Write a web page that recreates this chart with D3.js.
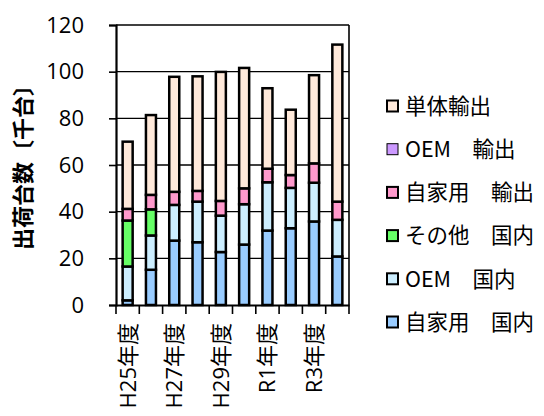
<!DOCTYPE html>
<html>
<head>
<meta charset="utf-8">
<script src="https://cdn.jsdelivr.net/npm/d3@7"></script>
<style>
  body { margin: 0; background: #fff; }
  svg { display: block; }
  .axis text { font-family: "Open Sans", "Noto Sans CJK JP", sans-serif; fill: #000; }
</style>
</head>
<body>
<div id="chart"></div>
<script>
// data (千台)
const years = ["H25年度", "H26年度", "H27年度", "H28年度", "H29年度", "H30年度", "R1年度", "R2年度", "R3年度", "R4年度"];
const seriesNames = ["自家用　国内", "OEM　国内", "その他　国内", "自家用　輸出", "OEM　輸出", "単体輸出"];
const seriesColors = ["#99ccff", "#cceeff", "#66ff66", "#ff99cc", "#cc99ff", "#ffe9da"];

const jikayoKokunai = [2.0, 15.1, 27.6, 26.9, 22.7, 25.9, 31.9, 32.9, 35.8, 20.8];
const oemKokunai    = [14.5, 14.7, 15.3, 17.4, 15.6, 17.3, 20.7, 17.3, 16.6, 15.7];
const sonotaKokunai = [19.7, 11.2, 0, 0, 0, 0, 0, 0, 0, 0];
const jikayoYushutsu = [5.0, 6.2, 5.6, 4.6, 6.3, 6.8, 5.8, 5.5, 8.3, 7.8];
const oemYushutsu   = [0, 0, 0, 0, 0, 0, 0, 0, 0, 0];
const tantaiYushutsu = [28.8, 34.2, 49.3, 49.1, 55.3, 51.6, 34.5, 28.0, 37.8, 67.3];

const yTicks = [0, 20, 40, 60, 80, 100, 120];

const allSeries = [jikayoKokunai, oemKokunai, sonotaKokunai, jikayoYushutsu, oemYushutsu, tantaiYushutsu];

const W = 544, H = 416;
const margin = { top: 25, right: 195, bottom: 111, left: 116 };
const width = W - margin.left - margin.right,
    height = H - margin.top - margin.bottom;

const svg = d3.select("#chart").append("svg")
    .attr("width", W)
    .attr("height", H);

const g = svg.append("g")
    .attr("transform", "translate(" + margin.left + "," + margin.top + ")");

// table for d3.stack
const table = years.map((y, i) => {
    let row = { year: y };
    seriesNames.forEach((s, k) => row[s] = allSeries[k][i]);
    return row;
});
const stacked = d3.stack().keys(seriesNames)(table);

const x = d3.scaleBand()
    .domain(years)
    .range([0, width])
    .paddingInner(0.57)
    .paddingOuter(0.285);

const y = d3.scaleLinear()
    .domain([0, 120])
    .range([height, 0]);

const color = d3.scaleOrdinal()
    .domain(seriesNames)
    .range(seriesColors);

// gridlines
g.append("g")
    .selectAll("line")
    .data(yTicks.filter(d => d > 0))
    .enter().append("line")
    .attr("x1", 0)
    .attr("x2", width)
    .attr("y1", d => y(d))
    .attr("y2", d => y(d))
    .attr("stroke", "#000")
    .attr("stroke-width", 1.4);

// right border of plot area
g.append("line")
    .attr("x1", width).attr("x2", width)
    .attr("y1", 0).attr("y2", height)
    .attr("stroke", "#000")
    .attr("stroke-width", 1.6);

// bars
g.append("g")
    .selectAll("g")
    .data(stacked)
    .enter().append("g")
    .attr("fill", d => color(d.key))
    .selectAll("rect")
    .data(d => d.filter(v => v[1] - v[0] > 0))
    .enter().append("rect")
    .attr("x", d => x(d.data.year))
    .attr("width", x.bandwidth())
    .attr("y", d => y(d[1]))
    .attr("height", d => y(d[0]) - y(d[1]))
    .attr("stroke", "#000")
    .attr("stroke-width", 2.5);

// y axis
const yAxis = d3.axisLeft(y)
    .tickValues(yTicks)
    .tickSize(7)
    .tickPadding(25);

const yg = g.append("g")
    .attr("class", "axis")
    .call(yAxis);
yg.select(".domain").attr("stroke-width", 2.2);
yg.selectAll(".tick line").attr("stroke-width", 1.6);
yg.selectAll("text").style("font-size", "22px");

// x axis: labels on every other year, ticks between categories
const xAxis = d3.axisBottom(x)
    .tickValues(years.filter((d, i) => i % 2 === 0))
    .tickSize(0)
    .tickSizeOuter(0);

const xg = g.append("g")
    .attr("class", "axis")
    .attr("transform", "translate(0," + height + ")")
    .call(xAxis);
xg.select(".domain").attr("stroke-width", 2.2);
xg.selectAll("text")
    .style("font-size", "22px")
    .style("text-anchor", "end")
    .attr("transform", "rotate(-90)")
    .attr("x", -18)
    .attr("y", 0)
    .attr("dy", "0.36em");

const step = x.step();
const boundaries = years.map(d => x(d) + x.bandwidth() / 2 - step / 2).concat([width]);
xg.selectAll(".btick")
    .data(boundaries)
    .enter().append("line")
    .attr("class", "btick")
    .attr("x1", d => d).attr("x2", d => d)
    .attr("y1", 0).attr("y2", 9)
    .attr("stroke", "#000")
    .attr("stroke-width", 1.6);

// y axis title
svg.append("text")
    .attr("transform", "translate(31,162) rotate(-90)")
    .attr("text-anchor", "middle")
    .style("font-family", "'Noto Sans CJK JP', sans-serif")
    .style("font-weight", "bold")
    .style("font-size", "22px")
    .text("出荷台数〔千台〕");

// legend (reverse order, top = 単体輸出)
const legend = svg.append("g")
    .attr("transform", "translate(387,106)");

const legendItems = legend.selectAll("g")
    .data(seriesNames.slice().reverse())
    .enter().append("g")
    .attr("transform", (d, i) => "translate(0," + (i * 43.2) + ")");

legendItems.append("rect")
    .attr("x", 0)
    .attr("y", -5.5)
    .attr("width", 11)
    .attr("height", 11)
    .attr("fill", d => color(d))
    .attr("stroke", "#000")
    .attr("stroke-width", d => d === "OEM　輸出" ? 1 : 2);

legendItems.append("text")
    .attr("x", 18)
    .attr("y", 0)
    .attr("dy", "0.36em")
    .style("font-family", "'Noto Sans CJK JP', sans-serif")
    .style("font-size", "21.5px")
    .text(d => d);
</script>
</body>
</html>
